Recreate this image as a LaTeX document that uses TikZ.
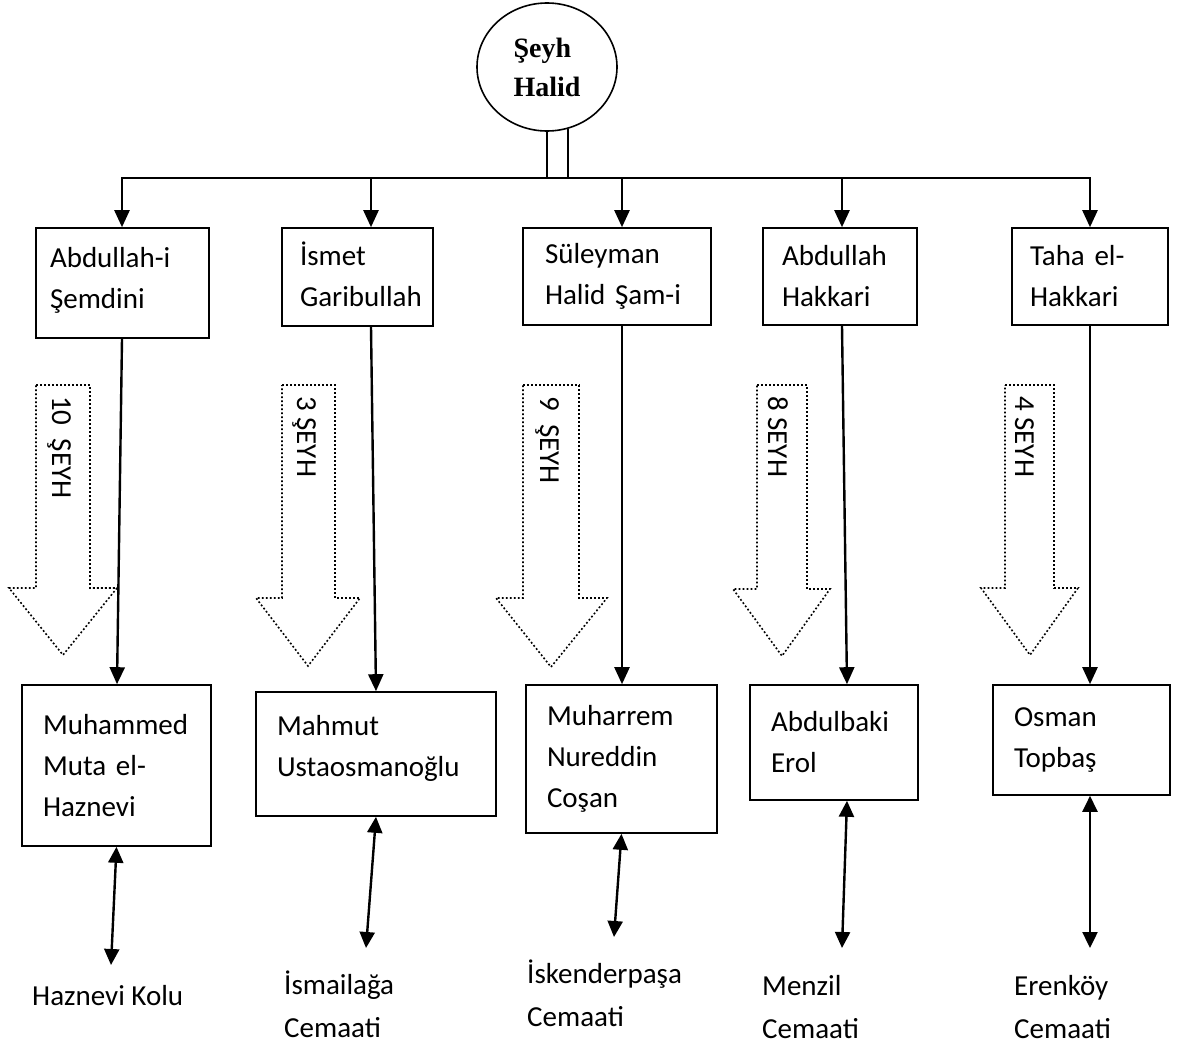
\documentclass[tikz,border=0pt]{standalone}
\usepackage{fontspec}
\setmainfont{Carlito}
\newfontfamily\tnr{Liberation Serif}
\usetikzlibrary{arrows.meta,shapes.geometric}
\tikzset{
  conn/.style={line width=2.4pt},
  arr/.style={conn, -{Triangle[width=15pt,length=17pt]}},
  darr/.style={conn, {Triangle[width=15pt,length=16pt]}-{Triangle[width=15pt,length=16pt]}},
  box/.style={draw, line width=1.6pt, inner ysep=0pt, align=left, font=\fontsize{29}{41}\selectfont},
  lbl/.style={inner sep=0pt, align=left, anchor=base west, font=\fontsize{29}{43}\selectfont},
  dotarrow/.style={line width=1.6pt, dash pattern=on 1.8pt off 2.2pt},
  rottext/.style={inner sep=0pt, rotate=-90, anchor=base west, font=\fontsize{29}{35}\selectfont},
}
\begin{document}
\begin{tikzpicture}[x=1pt,y=1pt]
\useasboundingbox (0,0) rectangle (1203,-1044);

% root
\node[draw, ellipse, line width=1.6pt, minimum width=140pt, minimum height=128pt, inner sep=0pt,
      align=left, font=\tnr\bfseries\fontsize{28}{39}\selectfont] (E) at (547,-67) {Şeyh\\Halid};

% horizontal bar
\coordinate (h1) at (122,-178);
\coordinate (h2) at (371,-178);
\coordinate (h3) at (622,-178);
\coordinate (h4) at (842,-178);
\coordinate (h5) at (1090,-178);
\draw[conn, line cap=rect] (h1) -- (h5);
\draw[line width=2.2pt] (E.south) -- (E.south |- h1);
\draw[line width=2.2pt] (E.-71) -- (E.-71 |- h1);

% top boxes
\node[box, inner xsep=14pt, text width=145pt, minimum height=110pt] (T1) at (122.5,-283) {\mbox{Abdullah-i}\\\mbox{Şemdini}\\[-30pt]\mbox{}};
\node[box, inner xsep=18pt, text width=115pt, minimum height=98pt] (T2) at (357.5,-277) {\mbox{İsmet}\\\mbox{Garibullah}\\[-35pt]\mbox{}};
\node[box, inner xsep=22pt, text width=144pt, minimum height=97pt] (T3) at (617,-276.5) {\mbox{Süleyman}\\\mbox{Halid Şam-i}};
\node[box, inner xsep=19pt, text width=116pt, minimum height=97pt] (T4) at (840,-276.5) {\mbox{Abdullah}\\\mbox{Hakkari}};
\node[box, inner xsep=18pt, text width=120pt, minimum height=97pt] (T5) at (1090,-276.5) {\mbox{Taha el-}\\\mbox{Hakkari}};

\draw[arr] (h1) -- (h1 |- T1.north);
\draw[arr] (h2) -- (h2 |- T2.north);
\draw[arr] (h3) -- (h3 |- T3.north);
\draw[arr] (h4) -- (h4 |- T4.north);
\draw[arr] (h5) -- (h5 |- T5.north);

% bottom boxes
\node[box, inner xsep=21pt, text width=147pt, minimum height=161pt] (B1) at (116.5,-765.5) {\mbox{Muhammed}\\\mbox{Muta el-}\\\mbox{Haznevi}};
\node[box, inner xsep=21pt, text width=198pt, minimum height=124pt] (B2) at (376,-754) {\mbox{Mahmut}\\\mbox{Ustaosmanoğlu}\\[-24pt]\mbox{}};
\node[box, inner xsep=21pt, text width=149pt, minimum height=148pt] (B3) at (621.5,-759) {\mbox{Muharrem}\\\mbox{Nureddin}\\\mbox{Coşan}};
\node[box, inner xsep=21pt, text width=126pt, minimum height=115pt] (B4) at (834,-742.5) {\mbox{Abdulbaki}\\\mbox{Erol}};
\node[box, inner xsep=21pt, text width=135pt, minimum height=110pt] (B5) at (1081.5,-740) {\mbox{Osman}\\\mbox{Topbaş}};

% long arrows
\draw[arr] ([xshift=-0.5pt]T1.south) -- ([xshift=0.5pt]B1.north);
\draw[arr] ([xshift=13.5pt]T2.south) -- (B2.north);
\draw[arr] ([xshift=5pt]T3.south) -- ([xshift=0.5pt]B3.north);
\draw[arr] ([xshift=2pt]T4.south) -- ([xshift=13pt]B4.north);
\draw[arr] (T5.south) -- ([xshift=8.5pt]B5.north);

% dotted block arrows
\draw[dotarrow] (36,-385) -- (90,-385) -- (90,-588) -- (117,-588) -- (63,-655) -- (9,-588) -- (36,-588) -- cycle;
\draw[dotarrow] (282,-385) -- (335,-385) -- (335,-598) -- (360,-598) -- (308,-666) -- (256,-598) -- (282,-598) -- cycle;
\draw[dotarrow] (523,-385) -- (579,-385) -- (579,-598) -- (607,-598) -- (551,-667) -- (496,-598) -- (523,-598) -- cycle;
\draw[dotarrow] (757,-385) -- (807,-385) -- (807,-589) -- (830,-589) -- (782,-656) -- (733,-589) -- (757,-589) -- cycle;
\draw[dotarrow] (1005,-385) -- (1054,-385) -- (1054,-588) -- (1078,-588) -- (1030,-655) -- (981,-588) -- (1005,-588) -- cycle;

\node[rottext] (S1) at (52,-396) {10\ \ ŞEYH};
\node[rottext] (S2) at (297,-396) {3 ŞEYH};
\node[rottext] (S3) at (540,-396) {9\ \ ŞEYH};
\node[rottext] (S4) at (768,-396) {8 SEYH};
\node[rottext] (S5) at (1015,-396) {4 SEYH};

% bottom double arrows
\coordinate (e1) at (111,-965);
\coordinate (e2) at (366,-948);
\coordinate (e3) at (614,-937);
\coordinate (e4) at (842,-948);
\coordinate (e5) at (1090,-948);
\draw[darr] (B1.south) -- (e1);
\draw[darr] (B2.south) -- (e2);
\draw[darr] (B3.south) -- (e3);
\draw[darr] ([xshift=13pt]B4.south) -- (e4);
\draw[darr] ([xshift=8.5pt]B5.south) -- (e5);

% labels (base anchor = baseline of last line)
\node[lbl] (L1) at (32,-1005) {Haznevi Kolu};
\node[lbl] (L2) at (284,-1037) {İsmailağa\\Cemaati};
\node[lbl] (L3) at (527,-1026) {İskenderpaşa\\Cemaati};
\node[lbl] (L4) at (762,-1038) {Menzil\\Cemaati};
\node[lbl] (L5) at (1014,-1038) {Erenköy\\Cemaati};
\end{tikzpicture}
\end{document}
